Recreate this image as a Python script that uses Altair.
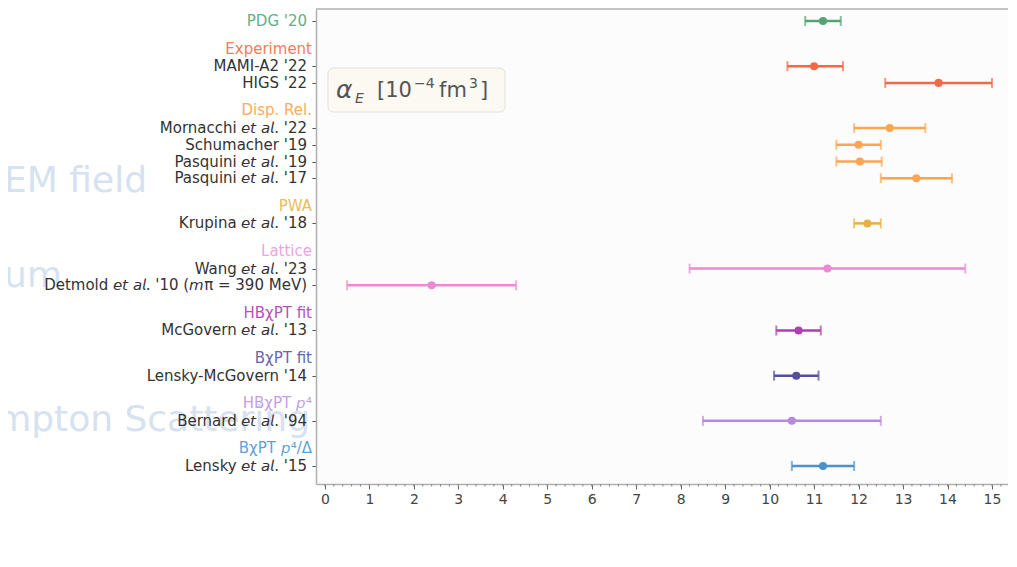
import altair as alt
import pandas as pd

ET = "\U0001D626\U0001D635 \U0001D622\U0001D62D."  # italic "et al."
MI = "\U0001D62E"   # italic m
PI4 = "\U0001D631\u2074"  # italic p^4

labels = ["PDG '20", "MAMI-A2 '22", "HIGS '22", f"Mornacchi {ET} '22",
          "Schumacher '19", f"Pasquini {ET} '19", f"Pasquini {ET} '17",
          f"Krupina {ET} '18", f"Wang {ET} '23",
          f"Detmold {ET} '10 ({MI}\u03c0 = 390 MeV)",
          f"McGovern {ET} '13", "Lensky-McGovern '14", f"Bernard {ET} '94",
          f"Lensky {ET} '15"]
rows = [0, 2.7, 3.7, 6.4, 7.4, 8.4, 9.4, 12.1, 14.8, 15.8, 18.5, 21.2, 23.9, 26.6]
centers = [11.2, 11.0, 13.8, 12.7, 12.0, 12.03, 13.3, 12.2, 11.3, 2.4, 10.65, 10.6, 10.5, 11.2]
lows = [10.8, 10.4, 12.6, 11.9, 11.5, 11.5, 12.5, 11.9, 8.2, 0.5, 10.15, 10.1, 8.5, 10.5]
highs = [11.6, 11.65, 15.0, 13.5, 12.5, 12.52, 14.1, 12.5, 14.4, 4.3, 11.15, 11.1, 12.5, 11.9]
colors = ["#55a275", "#f2694a", "#f2694a", "#fda64f", "#fda64f", "#fda64f", "#fda64f",
          "#e6b042", "#e88bd2", "#e88bd2", "#ad3fb0", "#534f99", "#b689dd", "#4b93c9"]
label_colors = ["#62b085"] + ["#333333"] * 13

headers = ["Experiment", "Disp. Rel.", "PWA", "Lattice", "HB\u03c7PT fit",
           "B\u03c7PT fit", f"HB\u03c7PT {PI4}", f"B\u03c7PT {PI4}/\u0394"]
header_rows = [1.65, 5.35, 11.05, 13.75, 17.45, 20.15, 22.85, 25.55]
header_colors = ["#f57a5c", "#fdab5a", "#ecbc55", "#f0a3df", "#b552b8",
                 "#6a65ad", "#c29fe6", "#5fa2d6"]

x_ticks = list(range(16))
legend_parts = ["\u03b1", "E", "[10", "\u22124", "fm", "3", "]"]
slide_texts = ["EM field", "rum", "mpton Scattering"]

W, H = 692, 475
FONT = "DejaVu Sans"

df = pd.DataFrame({"label": labels, "row": rows, "c": centers, "lo": lows,
                   "hi": highs, "color": colors, "lcolor": label_colors})
hdf = pd.DataFrame({"label": headers, "row": header_rows, "color": header_colors})

XS = alt.Scale(domain=[-0.2, 15.36], nice=False, zero=False)
XA = alt.Axis(values=x_ticks, title=None, grid=False, tickSize=5,
              labelFontSize=14, labelColor="#444444", labelFont=FONT,
              domainColor="#b0b0b0", domainWidth=1.5, tickColor="#666666",
              labelPadding=3, labelFlush=False)
YS = alt.Scale(domain=[-0.717, 27.676], reverse=True, nice=False, zero=False)
YA = alt.Axis(values=rows, labels=False, title=None, grid=False, tickSize=4,
              domainColor="#b0b0b0", domainWidth=1.5, tickColor="#555555")
Y = alt.Y("row:Q", scale=YS, axis=YA)


def xq(field):
    return alt.X(f"{field}:Q", scale=XS, axis=XA)


base = alt.Chart(df)
bars = base.mark_rule(strokeWidth=2.5).encode(
    x=xq("lo"), x2="hi:Q", y=Y, color=alt.Color("color:N", scale=None))
caps = base.transform_fold(["lo", "hi"], as_=["k", "v"]).mark_tick(
    orient="vertical", thickness=2, size=10).encode(
    x=xq("v"), y=Y, color=alt.Color("color:N", scale=None))
pts = base.mark_circle(size=65, opacity=1).encode(
    x=xq("c"), y=Y, color=alt.Color("color:N", scale=None))

lab = base.mark_text(align="right", baseline="middle", fontSize=15, font=FONT).encode(
    x=alt.value(-9), y=Y, text="label:N", color=alt.Color("lcolor:N", scale=None))
hdr = alt.Chart(hdf).mark_text(align="right", baseline="middle", fontSize=15, font=FONT).encode(
    x=alt.value(-4), y=Y, text="label:N", color=alt.Color("color:N", scale=None))

minor = alt.Chart(alt.sequence(0, 15.3, 0.2, as_="m")).mark_rule(
    color="#888888", strokeWidth=1).encode(
    x=xq("m"), y=alt.value(H), y2=alt.value(H + 2.5))

one = pd.DataFrame({"a": [0]})
top = alt.Chart(one).mark_rule(color="#c4c4c4", strokeWidth=2).encode(
    x=alt.value(0), x2=alt.value(W), y=alt.value(0))

box = alt.Chart(one).mark_rect(cornerRadius=5, fill="#fcf9f3", stroke="#e6e2da",
                               strokeWidth=1).encode(
    x=alt.value(12), x2=alt.value(189), y=alt.value(59), y2=alt.value(103))

# legend text pieces: (text, x, y, size, italic)
leg_layout = [(20, 81, 25, True), (39, 90, 14, True), (61, 82, 21, False),
              (98, 75, 14, False), (123, 82, 21, False), (153, 75, 14, False),
              (164, 82, 21, False)]
leg = [
    alt.Chart(one).mark_text(text=legend_parts[i], fontSize=fs,
                             fontStyle="italic" if it else "normal",
                             font=FONT, align="left", baseline="middle",
                             color="#555555").encode(x=alt.value(px), y=alt.value(py))
    for i, (px, py, fs, it) in enumerate(leg_layout)
]

sdf = pd.DataFrame({"t": slide_texts})
slide_pos = [(147, 192), (62, 287), (310, 431)]
slide = [
    alt.Chart(sdf.iloc[[i]]).mark_text(fontSize=36, font=FONT, align="right",
                                       baseline="alphabetic", color="#d6e2f0").encode(
        text="t:N", x=alt.value(px - 316), y=alt.value(py - 9))
    for i, (px, py) in enumerate(slide_pos)
]

chart = alt.layer(*slide, minor, top, box, *leg, bars, caps, pts, lab, hdr).properties(
    width=W, height=H, autosize="none",
    padding={"left": 308, "top": 1, "right": 0, "bottom": 40},
    background="#ffffff",
).configure_view(stroke=None, fill="#fdfcfc")

chart.save("out.html", embed_options={"renderer": "svg", "actions": False})
